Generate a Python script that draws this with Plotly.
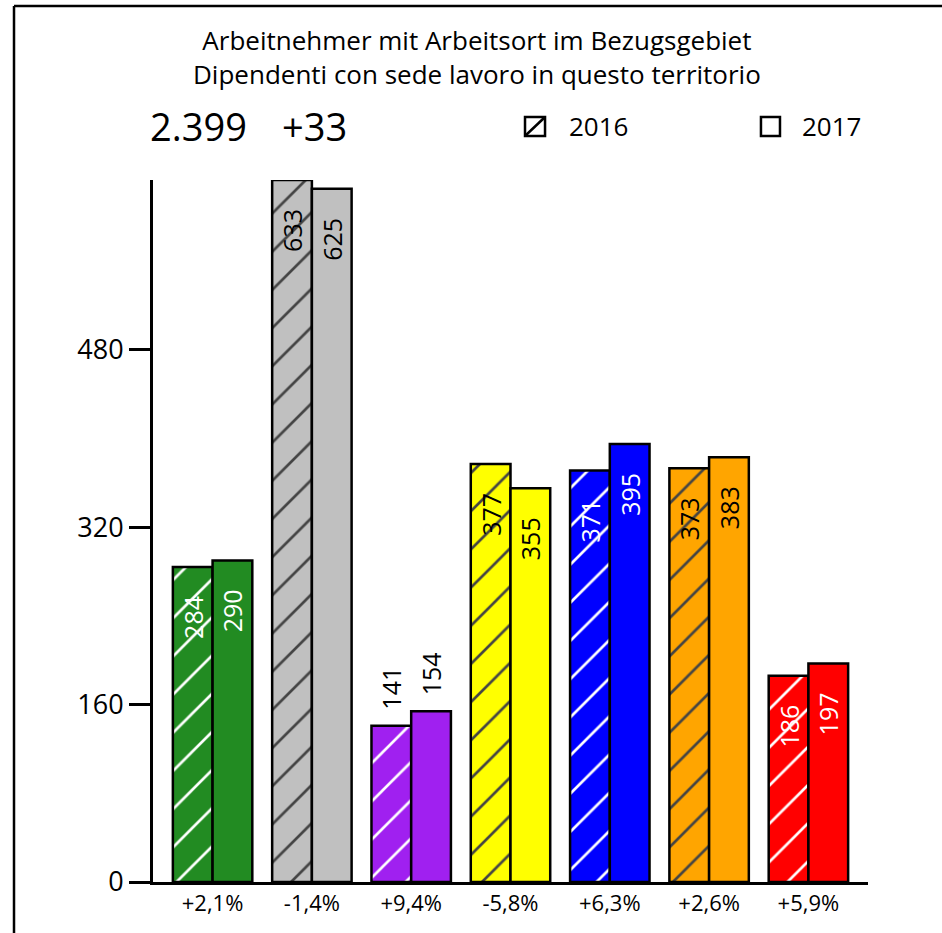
import plotly.graph_objects as go

# Data
changes = ["+2,1%", "-1,4%", "+9,4%", "-5,8%", "+6,3%", "+2,6%", "+5,9%"]
values_2016 = [284, 633, 141, 377, 371, 373, 186]
values_2017 = [290, 625, 154, 355, 395, 383, 197]
bar_colors = ["#228B22", "#C0C0C0", "#A020F0", "#FFFF00", "#0000FF", "#FFA500", "#FF0000"]
label_colors = ["white", "black", "black", "black", "white", "black", "white"]
label_positions = ["inside", "inside", "outside", "inside", "inside", "inside", "inside"]
total_2017 = "2.399"
total_change = "+33"
y_ticks = [0, 160, 320, 480]

FONT = "Open Sans"
NBSP = "\u00a0"


def bar_labels(values):
    # inside labels sit a little below the bar top, outside ones a little above it
    out = []
    for v, pos in zip(values, label_positions):
        if pos == "inside":
            out.append(f"{v}" + NBSP * 4)
        else:
            out.append(NBSP * 2 + f"{v}")
    return out


fig = go.Figure()

fig.add_trace(go.Bar(
    name="2016",
    x=changes,
    y=values_2016,
    text=bar_labels(values_2016),
    textposition=label_positions,
    textangle=-90,
    insidetextanchor="end",
    constraintext="none",
    insidetextfont=dict(color=label_colors, size=25, family=FONT),
    outsidetextfont=dict(color="black", size=25, family=FONT),
    marker=dict(
        color=bar_colors,
        line=dict(color="black", width=2.5),
        pattern=dict(shape="/", fgcolor=label_colors, bgcolor=bar_colors,
                     size=27, solidity=0.1, fgopacity=1),
    ),
    cliponaxis=False,
    showlegend=False,
))

fig.add_trace(go.Bar(
    name="2017",
    x=changes,
    y=values_2017,
    text=bar_labels(values_2017),
    textposition=label_positions,
    textangle=-90,
    insidetextanchor="end",
    constraintext="none",
    insidetextfont=dict(color=label_colors, size=25, family=FONT),
    outsidetextfont=dict(color="black", size=25, family=FONT),
    marker=dict(color=bar_colors, line=dict(color="black", width=2.5)),
    cliponaxis=False,
    showlegend=False,
))

annotations = [
    dict(text="Arbeitnehmer mit Arbeitsort im Bezugsgebiet<br>Dipendenti con sede lavoro in questo territorio",
         x=0.453, y=1.175, xref="paper", yref="paper", showarrow=False,
         font=dict(size=26, family=FONT, color="black"), xanchor="center", yanchor="middle"),
    dict(text=total_2017, x=-0.007, y=1.0769, xref="paper", yref="paper", showarrow=False,
         font=dict(size=38, family=FONT, color="black"), xanchor="left", yanchor="middle"),
    dict(text=total_change, x=0.1776, y=1.0769, xref="paper", yref="paper", showarrow=False,
         font=dict(size=38, family=FONT, color="black"), xanchor="left", yanchor="middle"),
    dict(text="2016", x=0.579, y=1.0769, xref="paper", yref="paper", showarrow=False,
         font=dict(size=26, family=FONT, color="black"), xanchor="left", yanchor="middle"),
    dict(text="2017", x=0.905, y=1.0769, xref="paper", yref="paper", showarrow=False,
         font=dict(size=26, family=FONT, color="black"), xanchor="left", yanchor="middle"),
]

shapes = [
    # outer frame (left and top edges)
    dict(type="line", xref="paper", yref="paper", x0=-0.1944, x1=-0.1944, y0=1.2479, y1=-0.2,
         line=dict(color="black", width=2.5)),
    dict(type="line", xref="paper", yref="paper", x0=-0.1944, x1=1.2, y0=1.2479, y1=1.2479,
         line=dict(color="black", width=2.5)),
    # legend keys
    dict(type="rect", xref="paper", yref="paper", x0=0.5203, x1=0.5483, y0=1.0627, y1=1.0897,
         line=dict(color="black", width=2.5), fillcolor="white"),
    dict(type="line", xref="paper", yref="paper", x0=0.5203, x1=0.5483, y0=1.0627, y1=1.0897,
         line=dict(color="black", width=2.5)),
    dict(type="rect", xref="paper", yref="paper", x0=0.8503, x1=0.8769, y0=1.0627, y1=1.0897,
         line=dict(color="black", width=2.5), fillcolor="white"),
]

fig.update_layout(
    width=942, height=933,
    margin=dict(l=153, r=74, t=180, b=51),
    paper_bgcolor="white", plot_bgcolor="white",
    barmode="group", bargap=0.2, bargroupgap=0,
    font=dict(family=FONT, color="black"),
    annotations=annotations,
    shapes=shapes,
)

fig.update_xaxes(
    range=[-0.6, 6.6], showline=True, linecolor="black", linewidth=3,
    ticks="", showgrid=False, zeroline=False,
    tickfont=dict(size=22, family=FONT, color="black"),
)
fig.update_yaxes(
    range=[0, 633], tickvals=y_ticks, showline=True, linecolor="black", linewidth=3,
    ticks="outside", ticklen=21, tickwidth=3, tickcolor="black",
    showgrid=False, zeroline=False,
    tickfont=dict(size=27, family=FONT, color="black"),
)

fig.write_html("out.html")
